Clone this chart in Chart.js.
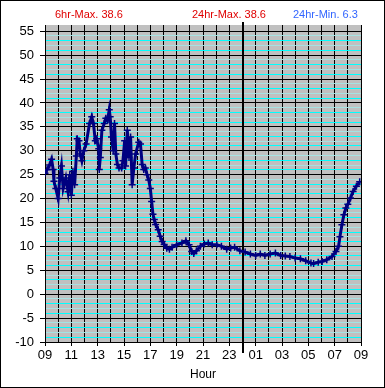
<!DOCTYPE html>
<html>
<head>
<meta charset="utf-8">
<script src="https://cdn.jsdelivr.net/npm/chart.js@4/dist/chart.umd.min.js"></script>
<style>
  html, body { margin: 0; padding: 0; background: #fff; }
  #chart { display: block; }
</style>
</head>
<body>
<canvas id="chart" width="385" height="388"></canvas>
<script>
// hours since 09:00, and temperature read at that time
const hours = [
  0.0, 0.15, 0.35, 0.5, 0.62, 0.68, 0.82, 1.0, 1.12, 1.25, 1.38, 1.58, 1.75, 1.88, 2.0,
  2.12, 2.25, 2.38, 2.45, 2.58, 2.68, 2.8, 2.95, 3.12, 3.38, 3.55, 3.68, 3.82, 3.92,
  4.08, 4.12, 4.2, 4.32, 4.5, 4.62, 4.75, 4.88, 4.95, 5.05, 5.18, 5.28, 5.38, 5.5,
  5.62, 5.82, 5.92, 6.05, 6.12, 6.25, 6.38, 6.5, 6.62, 6.75, 6.88, 7.12, 7.25, 7.38,
  7.5, 7.62, 7.75, 7.88, 8.0, 8.1, 8.2, 8.3, 8.4, 8.6, 8.75, 8.9, 9.05, 9.25, 9.45,
  9.65, 10.0, 10.4, 10.7, 10.94, 11.14, 11.3, 11.5, 11.8, 12.1, 12.4, 12.7, 13.05,
  13.4, 13.8, 14.1, 14.4, 14.8, 15.2, 15.6, 16.0, 16.35, 16.7, 17.1, 17.5, 17.9,
  18.25, 18.6, 19.0, 19.4, 19.8, 20.2, 20.4, 20.75, 21.05, 21.4, 21.8, 22.1, 22.3,
  22.4, 22.55, 22.7, 22.85, 23.0, 23.2, 23.4, 23.65, 23.9
];
const temps = [
  25.3, 26.0, 27.0, 28.2, 26.1, 23.6, 22.1, 20.0, 24.3, 26.8, 22.1, 24.3, 21.4, 25.0, 20.7,
  25.7, 22.9, 28.9, 32.5, 32.1, 29.3, 27.9, 30.0, 31.4, 35.7, 37.1, 35.7, 32.1, 32.5,
  30.4, 26.1, 28.6, 34.3, 35.7, 36.8, 36.4, 38.6, 37.1, 32.9, 30.0, 35.7, 29.3, 27.1,
  26.4, 26.4, 27.9, 32.1, 26.8, 34.3, 28.6, 32.9, 22.9, 26.4, 29.3, 31.8, 31.4, 27.1,
  26.1, 26.4, 25.0, 23.9, 22.1, 19.4, 16.7, 15.6, 14.6, 13.5, 12.1, 11.0, 10.4, 9.6, 9.4,
  9.8, 10.35, 10.7, 11.2, 10.35, 8.95, 8.5, 9.1, 10.0, 10.5, 10.7, 10.35, 10.35,
  10.0, 9.4, 9.65, 9.8, 9.1, 8.8, 8.4, 8.1, 8.4, 8.1, 8.4, 8.6, 8.1,
  8.0, 7.9, 7.55, 7.4, 7.0, 6.5, 6.4, 6.7, 6.85, 7.2, 7.9, 8.95, 10.0,
  12.0, 14.5, 16.6, 18.0, 18.8, 20.1, 21.5, 22.6, 23.5
];
const hourTicks = ["09", "11", "13", "15", "17", "19", "21", "23", "01", "03", "05", "07", "09"];
const statTexts = ["6hr-Max. 38.6", "24hr-Max. 38.6", "24hr-Min. 6.3"];
const statColors = ["#e00000", "#e00000", "#3366ff"];
const statX = [55, 192, 293];

const yMin = -10, yMax = 55, yTop = 56.3;
const midnight = 15;

const backdrop = {
  id: "backdrop",
  beforeDraw(chart) {
    const { ctx, chartArea: a } = chart;
    ctx.save();
    ctx.fillStyle = "#fff";
    ctx.fillRect(0, 0, chart.width, chart.height);
    ctx.fillStyle = "#c0c0c0";
    ctx.fillRect(a.left, a.top, a.right - a.left, a.bottom - a.top);
    ctx.restore();
  },
  beforeDatasetsDraw(chart) {
    const { ctx } = chart;
    const x = Math.round(chart.scales.x.getPixelForValue(midnight));
    ctx.save();
    ctx.strokeStyle = "#000";
    ctx.lineWidth = 2;
    ctx.beginPath();
    ctx.moveTo(x, chart.chartArea.top - 3);
    ctx.lineTo(x, chart.chartArea.bottom + 11);
    ctx.stroke();
    ctx.restore();
  },
  afterDraw(chart) {
    const { ctx } = chart;
    ctx.save();
    ctx.strokeStyle = "#000";
    ctx.lineWidth = 1;
    ctx.strokeRect(0.5, 0.5, chart.width - 1, chart.height - 1);
    ctx.font = "11px 'Liberation Sans', Arial, sans-serif";
    ctx.textBaseline = "middle";
    ctx.textAlign = "left";
    statTexts.forEach((t, i) => {
      ctx.fillStyle = statColors[i];
      ctx.fillText(t, statX[i], 15);
    });
    ctx.restore();
  }
};

function minorColor(v) {
  const m = ((v % 5) + 5) % 5;
  if (m === 0) return "#000";
  return (m === 1 || m === 3) ? "#00ffff" : "#a6e2e2";
}

const ctx = document.getElementById("chart").getContext("2d");
const chart = new Chart(ctx, {
  type: "line",
  data: {
    datasets: [{
      data: hours.map((h, i) => ({ x: h, y: temps[i] })),
      borderColor: "#000080",
      backgroundColor: "#000080",
      borderWidth: 3,
      pointStyle: "cross",
      pointRadius: 3.5,
      pointBorderWidth: 1.5,
      tension: 0,
    }],
  },
  options: {
    responsive: false,
    animation: false,
    events: [],
    layout: { padding: { left: 0, right: 24, top: 25, bottom: 6 } },
    plugins: { legend: { display: false }, tooltip: { enabled: false } },
    scales: {
      x: {
        type: "linear",
        min: 0,
        max: 24,
        afterBuildTicks: (s) => { s.ticks = hourTicks.flatMap((_, i) => i < 12 ? [{ value: i * 2 }, { value: i * 2 + 1 }] : [{ value: 24 }]); },
        afterFit: (s) => { s.height = 40; },
        grid: {
          color: "#000",
          lineWidth: (c) => (c.tick && c.tick.value === midnight ? 2 : 1),
          tickLength: 4,
          tickColor: (c) => (c.tick && c.tick.value % 2 === 0 ? "#000" : "rgba(0,0,0,0)"),
        },
        border: { color: "#000" },
        ticks: {
          autoSkip: false,
          maxRotation: 0,
          padding: 2,
          color: "#000",
          font: { family: "'Liberation Sans', Arial, sans-serif", size: 13 },
          callback: (v) => (v % 2 === 0 ? hourTicks[v / 2] : ""),
        },
        title: {
          display: true,
          text: "Hour",
          color: "#000",
          padding: { top: 0, bottom: 0 },
          font: { family: "'Liberation Sans', Arial, sans-serif", size: 12 },
        },
      },
      y: {
        min: yMin,
        max: yTop,
        afterBuildTicks: (s) => {
          const t = [];
          for (let v = yMin; v <= yMax; v++) t.push({ value: v });
          s.ticks = t;
        },
        afterFit: (s) => { s.width = 45; },
        grid: {
          color: (c) => minorColor(c.tick ? c.tick.value : 0),
          tickLength: 5,
          tickColor: (c) => (c.tick && c.tick.value % 5 === 0 ? "#000" : "rgba(0,0,0,0)"),
        },
        border: { color: "#000" },
        ticks: {
          autoSkip: false,
          padding: 6,
          color: "#000",
          font: { family: "'Liberation Sans', Arial, sans-serif", size: 13 },
          callback: (v) => (v % 5 === 0 ? String(v) : ""),
        },
      },
    },
  },
  plugins: [backdrop],
});
</script>
</body>
</html>
